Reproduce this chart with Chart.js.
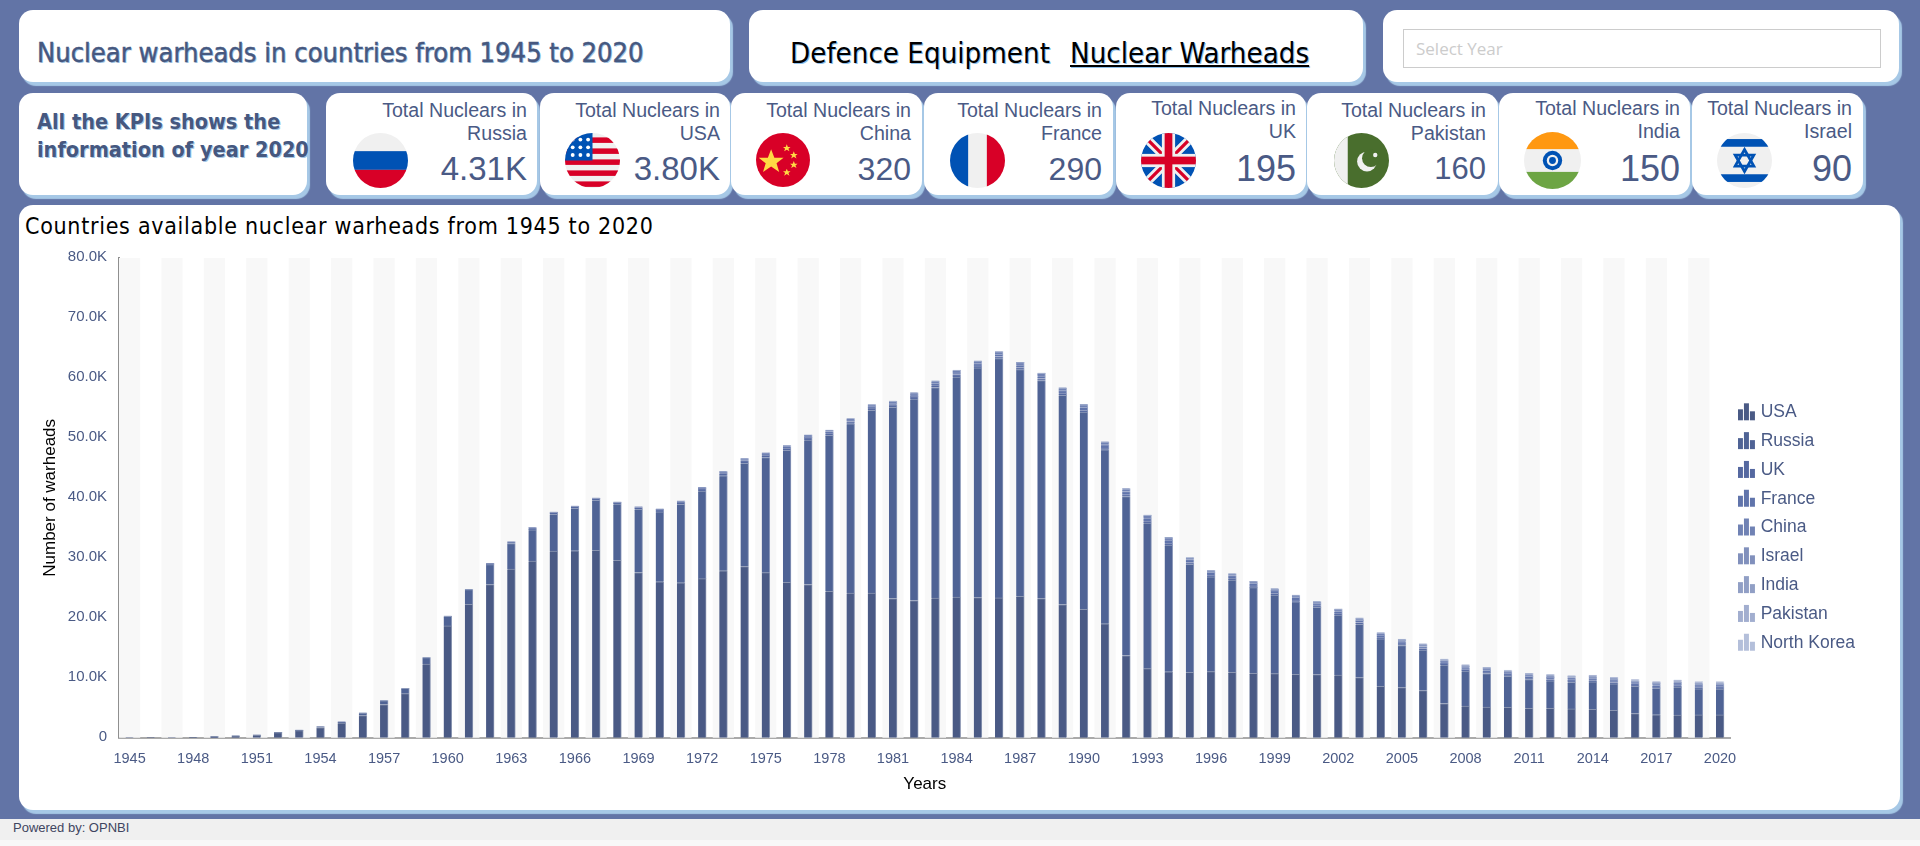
<!DOCTYPE html>
<html><head><meta charset="utf-8">
<script src="https://cdn.jsdelivr.net/npm/chart.js@4/dist/chart.umd.min.js"></script>
<style>
html,body{margin:0;padding:0;width:1920px;height:846px;overflow:hidden;background:#f8f8f8}
#page{position:absolute;left:0;top:0;width:1920px;height:819px;background:#6274a6}
#foot{position:absolute;left:0;top:819px;width:1920px;height:21px;background:#f0f0f0;font:13px "Liberation Sans",sans-serif;color:#3f4560;line-height:18px;padding-left:13px;box-sizing:border-box}
.p{position:absolute;background:#fff;border-radius:14px;box-shadow:3px 4px 1px #a6c8e6}
.t{position:absolute;white-space:nowrap}
.side{font-family:"DejaVu Sans Condensed";color:#46587f;text-shadow:1px 1px 0 #a6c8e6}
.h{font-family:"DejaVu Sans Condensed";color:#000;text-shadow:1px 1px 0 #8fc0ea}
.kl{font:19.6px/23px "Liberation Sans",sans-serif;color:#4a5a85;text-align:right;white-space:nowrap;position:absolute}
.kv{font-family:"Liberation Sans",sans-serif;color:#4a5a85;text-align:right;position:absolute;line-height:40px;white-space:nowrap}
svg.f{position:absolute}
#cw{position:absolute;left:20px;top:236px;width:1880px;height:583px}
</style></head><body>
<div id="page"></div><div id="foot">Powered by: OPNBI</div>
<div class="p" style="left:19px;top:10px;width:711px;height:72px"></div>
<div class="t side" style="left:37px;top:34px;font-size:27.1px;line-height:38px;-webkit-text-stroke:.45px #46587f">Nuclear warheads in countries from 1945 to 2020</div>
<div class="p" style="left:749px;top:10px;width:614px;height:72px"></div>
<div class="t h" style="left:790px;top:33px;font-size:29.2px;line-height:40px">Defence Equipment</div>
<div class="t h" style="left:1070px;top:33px;font-size:29.2px;line-height:40px;text-decoration:underline">Nuclear Warheads</div>
<div class="p" style="left:1383px;top:10px;width:516px;height:72px"></div>
<div style="position:absolute;left:1403px;top:29px;width:478px;height:39px;border:1px solid #ccc;box-sizing:border-box;font:17px/38px 'Open Sans',sans-serif;color:#ccc;padding-left:12px">Select Year</div>
<div class="p" style="left:19px;top:93px;width:288px;height:102px"></div>
<div class="t side" style="left:37px;top:108px;font-size:21.5px;font-weight:bold;line-height:27.5px">All the KPIs shows the<br>information of year 2020</div>
<div id="kpis"></div>
<div class="p" style="left:19px;top:205px;width:1881px;height:605px"></div>
<div class="t" style="left:25px;top:210px;font-family:'DejaVu Sans Condensed';font-size:23px;line-height:32px;color:#000;letter-spacing:.71px">Countries available nuclear warheads from 1945 to 2020</div>
<div id="cw"><canvas id="c" width="1880" height="583"></canvas></div>
<script>
const years=[1945,1946,1947,1948,1949,1950,1951,1952,1953,1954,1955,1956,1957,1958,1959,1960,1961,1962,1963,1964,1965,1966,1967,1968,1969,1970,1971,1972,1973,1974,1975,1976,1977,1978,1979,1980,1981,1982,1983,1984,1985,1986,1987,1988,1989,1990,1991,1992,1993,1994,1995,1996,1997,1998,1999,2000,2001,2002,2003,2004,2005,2006,2007,2008,2009,2010,2011,2012,2013,2014,2015,2016,2017,2018,2019,2020];
const usa=[2,9,13,50,170, 299,438,841,1169,1703, 2422,3692,5543,7345,12298, 18638,22229,25540,28133,29463, 31139,31175,31255,29561,27552, 26008,25830,26516,27835,28537, 27519,25914,25542,24418,24138, 24104,23208,22886,23305,23459, 23368,23317,23575,23205,22217, 21392,19008,13708,11511,10979, 10904,11011,10903,10732,10685, 10577,10526,10457,10027,8570, 8360,7853,5709,5273,5113, 5066,4897,4881,4804,4717, 4571,4018,3822,3785,3805, 3800];
const russia=[0,0,0,0,1, 5,25,50,120,150, 200,426,660,869,1060, 1605,2471,3322,4238,5221, 6129,7089,8339,9399,10538, 11650,13100,14600,15850,17200, 19200,22000,24100,26000,28200, 30500,31900,33600,35100,36700, 38300,39900,37800,36350,34900, 32900,29000,26500,24300,21150, 18000,15800,15400,14300,13100, 12100,11200,10000,8900,7900, 7000,6750,6400,5850,5600, 5150,4800,4600,4450,4600, 4400,4550,4400,4650,4330, 4310];
const uk=[0,0,0,0,0, 0,0,0,1,5, 10,15,20,22,25, 30,50,205,280,310, 310,310,310,280,308, 375,400,420,450,480, 400,400,400,400,400, 400,400,400,400,400, 350,350,350,350,350, 300,300,300,300,300, 300,300,280,280,281, 281,281,281,281,281, 280,260,225,225,225, 225,225,225,225,225, 215,215,215,215,215, 195];
const france=[0,0,0,0,0, 0,0,0,0,0, 0,0,0,0,0, 4,8,16,32,36, 32,36,36,36,36, 36,45,70,116,145, 188,212,228,235,235, 250,274,274,279,280, 360,355,420,411,412, 504,538,540,525,510, 500,450,450,450,450, 470,350,350,350,350, 350,350,300,300,300, 300,300,300,300,300, 300,300,300,300,290, 290];
const china=[0,0,0,0,0, 0,0,0,0,0, 0,0,0,0,0, 0,0,0,0,1, 5,20,25,35,50, 75,100,130,150,170, 185,190,200,220,235, 280,330,360,380,415, 425,425,415,430,430, 430,435,435,435,400, 235,235,235,235,235, 235,235,235,235,235, 235,235,235,240,240, 240,240,250,250,260, 260,260,270,280,290, 320];
const israel=[0,0,0,0,0, 0,0,0,0,0, 0,0,0,0,0, 0,0,0,0,0, 0,0,2,4,6, 8,11,15,20,20, 20,24,24,31,31, 31,35,35,40,40, 42,44,46,48,52, 53,56,58,60,62, 64,66,68,70,72, 72,75,75,80,80, 80,80,80,80,80, 80,80,80,80,80, 80,80,80,80,85, 90];
const india=[0,0,0,0,0, 0,0,0,0,0, 0,0,0,0,0, 0,0,0,0,0, 0,0,0,0,0, 0,0,0,0,1, 0,0,0,0,0, 0,0,0,0,0, 0,1,2,3,4, 5,7,9,11,13, 15,18,20,22,25, 30,35,40,45,50, 60,70,75,80,85, 90,95,100,105,110, 110,120,130,140,145, 150];
const pakistan=[0,0,0,0,0, 0,0,0,0,0, 0,0,0,0,0, 0,0,0,0,0, 0,0,0,0,0, 0,0,0,0,0, 0,0,0,0,0, 0,0,0,0,0, 0,0,0,0,0, 0,0,0,0,0, 0,0,0,5,15, 30,40,50,55,60, 70,75,80,85,90, 100,105,110,115,120, 120,130,140,150,150, 160];
const northKorea=[0,0,0,0,0, 0,0,0,0,0, 0,0,0,0,0, 0,0,0,0,0, 0,0,0,0,0, 0,0,0,0,0, 0,0,0,0,0, 0,0,0,0,0, 0,0,0,0,0, 0,0,0,0,0, 0,0,0,0,0, 0,0,0,0,0, 0,1,2,3,4, 6,8,10,12,14, 16,18,20,25,30, 35];
const seriesNames=["USA","Russia","UK","France","China","Israel","India","Pakistan","North Korea"];
const seriesData=[usa,russia,uk,france,china,israel,india,pakistan,northKorea];
const seriesColors=["#4a5a85","#4f6395","#5568a0","#6074ab","#7082b4","#8190bc","#919fc5","#a2aecf","#b4bfda"];
const kpiCountries=["Russia","USA","China","France","UK","Pakistan","India","Israel"];
const kpiValues=["4.31K","3.80K","320","290","195","160","150","90"];

// KPI cards: [left,width,labelRight,labelTop,valueSize,flagCenterX,flagSize]
const cards=[[326,211,527,99,33,380,55],[540,190,720,99,33,592,55],[731,191,911,99,32,783,54],[924,189,1102,99,32,977,55],[1116,190,1296,97,36,1168,55],[1307,191,1486,99,31,1361,55],[1499,191,1680,97,36,1552,57],[1692,171,1852,97,36,1744,55]];
const flagSvg={
Russia:'<rect width="100" height="100" fill="#f0f0f0"/><rect y="33" width="100" height="34" fill="#0052b4"/><rect y="67" width="100" height="33" fill="#d80027"/>',
USA:'<rect width="100" height="100" fill="#f0f0f0"/><g fill="#d80027"><rect y="8" width="100" height="10"/><rect y="28" width="100" height="10"/><rect y="48" width="100" height="10"/><rect y="68" width="100" height="10"/><rect y="88" width="100" height="10"/></g><rect width="50" height="50" fill="#0052b4"/><g fill="#fff"><circle cx="14" cy="12" r="3.5"/><circle cx="28" cy="12" r="3.5"/><circle cx="42" cy="12" r="3.5"/><circle cx="14" cy="26" r="3.5"/><circle cx="28" cy="26" r="3.5"/><circle cx="42" cy="26" r="3.5"/><circle cx="14" cy="40" r="3.5"/><circle cx="28" cy="40" r="3.5"/><circle cx="42" cy="40" r="3.5"/></g>',
China:'<rect width="100" height="100" fill="#d80027"/><g fill="#ffda44"><polygon points="28,30 34,46 51,46 38,56 43,72 28,62 13,72 18,56 5,46 22,46"/><polygon points="57,21 59,26 64,26 60,29 62,34 57,31 52,34 54,29 50,26 55,26"/><polygon points="70,34 72,39 77,39 73,42 75,47 70,44 65,47 67,42 63,39 68,39"/><polygon points="70,52 72,57 77,57 73,60 75,65 70,62 65,65 67,60 63,57 68,57"/><polygon points="57,66 59,71 64,71 60,74 62,79 57,76 52,79 54,74 50,71 55,71"/></g>',
France:'<rect width="100" height="100" fill="#f0f0f0"/><rect width="33" height="100" fill="#0052b4"/><rect x="67" width="33" height="100" fill="#d80027"/>',
UK:'<rect width="100" height="100" fill="#0052b4"/><path d="M0 0L100 100M100 0L0 100" stroke="#f0f0f0" stroke-width="16"/><path d="M0 0L100 100M100 0L0 100" stroke="#d80027" stroke-width="6"/><rect x="38" width="24" height="100" fill="#f0f0f0"/><rect y="38" width="100" height="24" fill="#f0f0f0"/><rect x="43" width="14" height="100" fill="#d80027"/><rect y="43" width="100" height="14" fill="#d80027"/>',
Pakistan:'<rect width="100" height="100" fill="#496e2d"/><rect width="25" height="100" fill="#f0f0f0"/><circle cx="60" cy="52" r="18" fill="#f0f0f0"/><circle cx="67" cy="46" r="16" fill="#496e2d"/><circle cx="75" cy="40" r="4" fill="#f0f0f0"/>',
India:'<rect width="100" height="100" fill="#f0f0f0"/><rect width="100" height="30" fill="#ff9811"/><rect y="70" width="100" height="30" fill="#6da544"/><circle cx="50" cy="50" r="17" fill="#0052b4"/><circle cx="50" cy="50" r="10" fill="#f0f0f0"/><circle cx="50" cy="50" r="6" fill="#0052b4"/>',
Israel:'<rect width="100" height="100" fill="#f0f0f0"/><rect y="11" width="100" height="14" fill="#0052b4"/><rect y="75" width="100" height="14" fill="#0052b4"/><g fill="none" stroke="#0052b4" stroke-width="5"><polygon points="50,30 67,60 33,60"/><polygon points="50,70 67,40 33,40"/></g>'};
let kHtml='';
kpiCountries.forEach((c,i)=>{const k=cards[i];
 kHtml+=`<div class="p" style="left:${k[0]}px;top:93px;width:${k[1]}px;height:102px"></div>`;
 kHtml+=`<div class="kl" style="right:${1920-k[2]}px;top:${k[3]}px">Total Nuclears in<br>${c}</div>`;
 kHtml+=`<div class="kv" style="right:${1920-k[2]}px;top:149px;font-size:${k[4]}px">${kpiValues[i]}</div>`;
 kHtml+=`<svg class="f" viewBox="0 0 100 100" width="${k[6]}" height="${k[6]}" style="left:${k[5]-k[6]/2}px;top:${160-k[6]/2}px"><defs><clipPath id="cp${i}"><circle cx="50" cy="50" r="50"/></clipPath></defs><g clip-path="url(#cp${i})">${flagSvg[c]}</g></svg>`;
});
document.getElementById('kpis').innerHTML=kHtml;

function icon(col){const c=document.createElement('canvas');c.width=18;c.height=20;const g=c.getContext('2d');g.fillStyle=col;g.fillRect(0,7,5,11);g.fillRect(6,1,5,17);g.fillRect(12,9,5,9);return c;}
function tint(h,a){const n=parseInt(h.slice(1),16),f=s=>Math.round(s+(255-s)*a);return `rgb(${f(n>>16)},${f(n>>8&255)},${f(n&255)})`;}

const stripes={id:'stripes',beforeDatasetsDraw(ch){const x=ch.scales.x,a=ch.chartArea,g=ch.ctx;const w=x.getPixelForValue(1)-x.getPixelForValue(0);g.save();g.fillStyle='#f8f8f8';
 years.forEach((y,i)=>{if(i%2===0)g.fillRect(x.getPixelForValue(i)-w/2,a.top,w,a.bottom-a.top);});g.restore();}};

new Chart(document.getElementById('c'),{type:'bar',plugins:[stripes],
 data:{labels:years,datasets:seriesNames.map((n,i)=>({label:n,data:seriesData[i],backgroundColor:seriesColors[i],borderColor:tint(seriesColors[i],.35),borderWidth:{top:1,right:1,left:0,bottom:0},borderSkipped:false,barThickness:8,stack:'a'}))},
 options:{responsive:false,animation:false,
  layout:{padding:{left:0,top:22,bottom:22,right:35}},
  plugins:{tooltip:{enabled:false},
   legend:{position:'right',labels:{usePointStyle:true,pointStyleWidth:10,font:{family:'Liberation Sans',size:17.5},color:'#4a5a85',padding:11.3,
     generateLabels(ch){return ch.data.datasets.map((d,i)=>({text:d.label,datasetIndex:i,pointStyle:icon(seriesColors[i]),fontColor:'#4a5a85',lineWidth:0,strokeStyle:'transparent',fillStyle:seriesColors[i]}));}}}},
  scales:{
   x:{stacked:true,grid:{display:false,drawTicks:false},border:{color:'#aaa',width:2},
    afterFit(s){s.height=59.3;},
    ticks:{autoSkip:false,maxRotation:0,padding:13,font:{family:'Liberation Sans',size:14.5},color:'#4a5a85',callback(v,i){return i%3===0?years[i]:'';}},
    title:{display:true,text:'Years',color:'#000',font:{family:'Liberation Sans',size:17},padding:{top:0,bottom:2}}},
   y:{stacked:true,min:0,max:80000,grid:{display:false,drawTicks:false},border:{color:'#8f8f8f',width:2},
    afterFit(s){s.width=99;},
    ticks:{stepSize:10000,padding:12,labelOffset:-1.3,font:{family:'Liberation Sans',size:15},color:'#4a5a85',callback(v){return v===0?'0':(v/1000).toFixed(1)+'K';}},
    title:{display:true,text:'Number of warheads',color:'#000',font:{family:'Liberation Sans',size:17},padding:{top:20,bottom:0}}}
  }}});
</script></body></html>
